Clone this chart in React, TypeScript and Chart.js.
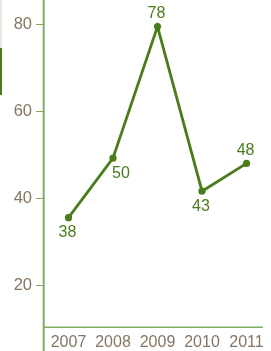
import React, { useEffect, useRef } from "react";
import { Chart, registerables } from "chart.js";

Chart.register(...registerables);

const years = [2007, 2008, 2009, 2010, 2011];
const values = [35.5, 49.2, 79.5, 41.6, 48.0];
const valueLabels = ["38", "50", "78", "43", "48"];
const yTicks = [20, 40, 60, 80];
const labelPlacement = ["below", "belowRight", "above", "below", "above"];

const LINE = "#4a7c1c";
const AXIS = "#7fab62";
const TEXT = "#857565";
const FONT = "'Liberation Sans Narrow', 'Liberation Sans', Arial, sans-serif";

const axisPlugin = {
  id: "axisLines",
  beforeDatasetsDraw(chart: any) {
    const { ctx, chartArea } = chart;
    ctx.save();
    ctx.strokeStyle = AXIS;
    ctx.lineWidth = 2;
    ctx.beginPath();
    ctx.moveTo(chartArea.left - 0.3, 0);
    ctx.lineTo(chartArea.left - 0.3, chart.height);
    ctx.stroke();
    ctx.lineWidth = 1.5;
    ctx.beginPath();
    ctx.moveTo(chartArea.left, chartArea.bottom + 0.3);
    ctx.lineTo(chartArea.right, chartArea.bottom + 0.3);
    ctx.stroke();
    ctx.restore();
  },
};

const labelPlugin = {
  id: "valueLabels",
  afterDatasetsDraw(chart: any) {
    const { ctx } = chart;
    const meta = chart.getDatasetMeta(0);
    ctx.save();
    ctx.fillStyle = LINE;
    ctx.font = `16px ${FONT}`;
    ctx.textAlign = "center";
    ctx.textBaseline = "middle";
    meta.data.forEach((pt: any, i: number) => {
      const p = labelPlacement[i];
      let dx = 0;
      let dy = 0;
      if (p === "below") { dx = -1; dy = 15; }
      else if (p === "above") { dx = -1; dy = -13; }
      else if (p === "belowRight") { dx = 8; dy = 15; }
      ctx.fillText(valueLabels[i], pt.x + dx, pt.y + dy);
    });
    ctx.restore();
  },
};

export default function App() {
  const ref = useRef<HTMLCanvasElement | null>(null);
  useEffect(() => {
    if (!ref.current) return;
    const chart = new Chart(ref.current, {
      type: "line",
      data: {
        datasets: [
          {
            data: years.map((y, i) => ({ x: y, y: values[i] })),
            borderColor: LINE,
            backgroundColor: LINE,
            borderWidth: 2.8,
            pointRadius: 3.6,
            pointBackgroundColor: LINE,
            pointBorderWidth: 0,
            tension: 0,
          },
        ],
      },
      options: {
        animation: false,
        responsive: false,
        maintainAspectRatio: false,
        layout: { padding: { left: 0, right: 8, top: 0, bottom: 0 } },
        plugins: { legend: { display: false }, tooltip: { enabled: false } },
        scales: {
          x: {
            type: "linear",
            min: 2006.45,
            max: 2011.37,
            border: { display: false },
            grid: { display: false, drawTicks: false },
            afterBuildTicks: (s: any) => {
              s.ticks = years.map((v) => ({ value: v }));
            },
            afterFit: (s: any) => {
              s.height = 24;
              s.paddingLeft = 0;
              s.paddingRight = 0;
            },
            ticks: {
              color: TEXT,
              font: { family: FONT, size: 16 },
              padding: 6,
              maxRotation: 0,
              autoSkip: false,
              callback: (v: any) => String(v),
            },
          },
          y: {
            min: 10.33,
            max: 84.71,
            border: { display: false },
            grid: {
              drawOnChartArea: false,
              drawTicks: true,
              tickLength: 8,
              color: AXIS,
              lineWidth: 1,
            },
            afterBuildTicks: (s: any) => {
              s.ticks = yTicks.map((v) => ({ value: v }));
            },
            afterFit: (s: any) => {
              s.width = 44;
              s.paddingTop = 0;
              s.paddingBottom = 0;
            },
            ticks: {
              color: TEXT,
              font: { family: FONT, size: 16.5 },
              padding: 4,
              callback: (v: any) => String(v),
            },
          },
        },
      },
      plugins: [axisPlugin, labelPlugin],
    });
    return () => chart.destroy();
  }, []);
  return (
    <div style={{ position: "absolute", left: 0, top: 0, width: 271, height: 351 }}>
      <canvas ref={ref} width={271} height={351} style={{ width: 271, height: 351, display: "block" }} />
      <div style={{ position: "absolute", left: 0, top: 0, width: 2, height: 48, background: "#e4eddc" }} />
      <div style={{ position: "absolute", left: 0, top: 48, width: 2, height: 47, background: LINE }} />
    </div>
  );
}
